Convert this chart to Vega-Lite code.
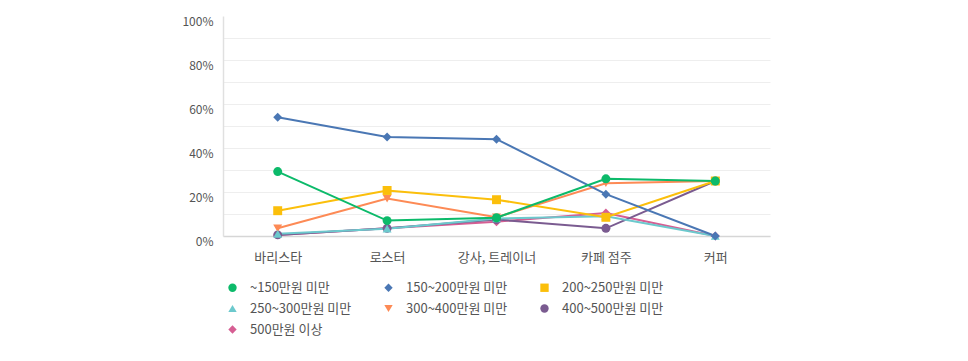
{
  "$schema": "https://vega.github.io/schema/vega-lite/v6.json",
  "width": 547,
  "height": 220,
  "padding": {"left": 181, "top": 15, "right": 5, "bottom": 5},
  "config": {
    "view": {"stroke": null},
    "font": "Noto Sans CJK KR"
  },
  "data": {
    "values": [
      {"series": "500만원 이상", "job": "바리스타", "pct": 0.5},
      {"series": "500만원 이상", "job": "로스터", "pct": 3.5},
      {"series": "500만원 이상", "job": "강사, 트레이너", "pct": 6.5},
      {"series": "500만원 이상", "job": "카페 점주", "pct": 10.5},
      {"series": "500만원 이상", "job": "커퍼", "pct": 0},
      {"series": "400~500만원 미만", "job": "바리스타", "pct": 0.5},
      {"series": "400~500만원 미만", "job": "로스터", "pct": 3.5},
      {"series": "400~500만원 미만", "job": "강사, 트레이너", "pct": 7.5},
      {"series": "400~500만원 미만", "job": "카페 점주", "pct": 3.5},
      {"series": "400~500만원 미만", "job": "커퍼", "pct": 25},
      {"series": "300~400만원 미만", "job": "바리스타", "pct": 3.5},
      {"series": "300~400만원 미만", "job": "로스터", "pct": 17},
      {"series": "300~400만원 미만", "job": "강사, 트레이너", "pct": 8.5},
      {"series": "300~400만원 미만", "job": "카페 점주", "pct": 24},
      {"series": "300~400만원 미만", "job": "커퍼", "pct": 25},
      {"series": "250~300만원 미만", "job": "바리스타", "pct": 1},
      {"series": "250~300만원 미만", "job": "로스터", "pct": 3.3},
      {"series": "250~300만원 미만", "job": "강사, 트레이너", "pct": 8},
      {"series": "250~300만원 미만", "job": "카페 점주", "pct": 9},
      {"series": "250~300만원 미만", "job": "커퍼", "pct": 0},
      {"series": "200~250만원 미만", "job": "바리스타", "pct": 11.5},
      {"series": "200~250만원 미만", "job": "로스터", "pct": 20.7},
      {"series": "200~250만원 미만", "job": "강사, 트레이너", "pct": 16.5},
      {"series": "200~250만원 미만", "job": "카페 점주", "pct": 8.5},
      {"series": "200~250만원 미만", "job": "커퍼", "pct": 25},
      {"series": "150~200만원 미만", "job": "바리스타", "pct": 54},
      {"series": "150~200만원 미만", "job": "로스터", "pct": 45},
      {"series": "150~200만원 미만", "job": "강사, 트레이너", "pct": 44},
      {"series": "150~200만원 미만", "job": "카페 점주", "pct": 19},
      {"series": "150~200만원 미만", "job": "커퍼", "pct": 0},
      {"series": "~150만원 미만", "job": "바리스타", "pct": 29.3},
      {"series": "~150만원 미만", "job": "로스터", "pct": 7},
      {"series": "~150만원 미만", "job": "강사, 트레이너", "pct": 8.3},
      {"series": "~150만원 미만", "job": "카페 점주", "pct": 26},
      {"series": "~150만원 미만", "job": "커퍼", "pct": 25}
    ]
  },
  "encoding": {
    "x": {
      "field": "job",
      "type": "nominal",
      "sort": ["바리스타", "로스터", "강사, 트레이너", "카페 점주", "커퍼"],
      "scale": {"padding": 0.5},
      "axis": {
        "title": null,
        "labelAngle": 0,
        "ticks": false,
        "grid": false,
        "domainColor": "#d6d6d6",
        "domainWidth": 1.5,
        "labelPadding": 15,
        "labelFontSize": 13,
        "labelColor": "#555555"
      }
    },
    "y": {
      "field": "pct",
      "type": "quantitative",
      "scale": {"domain": [0, 100], "nice": false},
      "axis": {
        "title": null,
        "values": [0, 10, 20, 30, 40, 50, 60, 70, 80, 90, 100],
        "labelExpr": "datum.value % 20 === 0 ? datum.value + '%' : ''",
        "ticks": false,
        "domainColor": "#e0e0e0",
        "domainWidth": 1.5,
        "gridColor": "#eeeeee",
        "gridOpacity": {"condition": {"test": "datum.value === 100", "value": 0}, "value": 1},
        "labelPadding": 10,
        "labelOffset": 5,
        "labelFontSize": 12,
        "labelColor": "#555555"
      }
    },
    "color": {
      "field": "series",
      "type": "nominal",
      "scale": {
        "domain": ["~150만원 미만", "150~200만원 미만", "200~250만원 미만", "250~300만원 미만", "300~400만원 미만", "400~500만원 미만", "500만원 이상"],
        "range": ["#0cba6a", "#4a77b4", "#fbbf0b", "#6cc9cd", "#fd8a55", "#7a5b90", "#d65e93"]
      },
      "legend": {
        "title": null,
        "orient": "none",
        "legendX": 3,
        "legendY": 265,
        "direction": "horizontal",
        "columns": 3,
        "columnPadding": 30,
        "rowPadding": 7,
        "symbolSize": 70,
        "symbolStrokeWidth": 0,
        "labelOffset": 11,
        "labelFontSize": 13,
        "labelColor": "#555555"
      }
    }
  },
  "layer": [
    {"mark": {"type": "line", "strokeWidth": 2}},
    {
      "mark": {"type": "point", "filled": true, "opacity": 1, "size": 80},
      "encoding": {
        "shape": {
          "field": "series",
          "type": "nominal",
          "scale": {
            "domain": ["~150만원 미만", "150~200만원 미만", "200~250만원 미만", "250~300만원 미만", "300~400만원 미만", "400~500만원 미만", "500만원 이상"],
            "range": ["circle", "diamond", "square", "triangle-up", "triangle-down", "circle", "diamond"]
          },
          "legend": {
            "title": null,
            "orient": "none",
            "legendX": 3,
            "legendY": 265,
            "direction": "horizontal",
            "columns": 3,
            "columnPadding": 30,
            "rowPadding": 7,
            "symbolSize": 70,
            "symbolStrokeWidth": 0,
            "labelOffset": 11,
            "labelFontSize": 13,
            "labelColor": "#555555"
          }
        }
      }
    }
  ]
}
